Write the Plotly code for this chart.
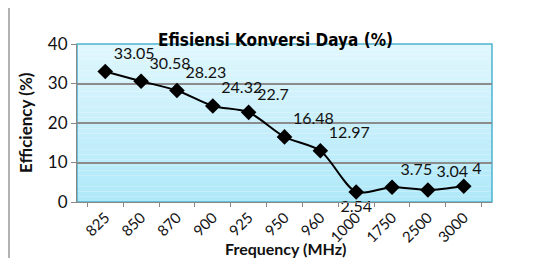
import plotly.graph_objects as go

categories = ["825", "850", "870", "900", "925", "950", "960", "1000", "1750", "2500", "3000"]
efficiency = [33.05, 30.58, 28.23, 24.32, 22.7, 16.48, 12.97, 2.54, 3.75, 3.04, 4]
label_text = ["33.05", "30.58", "28.23", "24.32", "22.7", "16.48", "12.97", "2.54", "3.75", "3.04", "4"]
label_pos = ["top right"] * 7 + ["bottom center"] + ["top right"] * 3

FONT = "Lato"
OFF = 8  # default page body margin
W, H = 537 - OFF, 258 - OFF
ML, MR, MT, MB = 77 - OFF, 45, 44 - OFF, 56
PW, PH = W - ML - MR, H - MT - MB

def px_x(px):
    return (px - OFF - ML) / PW

def px_y(py):
    return (H - MB - (py - OFF)) / PH

fig = go.Figure()
fig.add_trace(go.Scatter(
    x=categories, y=efficiency, mode="lines+markers+text",
    line=dict(color="black", width=2, shape="spline", smoothing=0.8),
    marker=dict(symbol="diamond", size=12, color="black"),
    text=label_text, textposition=label_pos,
    textfont=dict(family=FONT, size=16, color="#111"),
    cliponaxis=False, showlegend=False,
))

shapes = []
n = 30
top = (224, 247, 253)
bot = (176, 232, 249)
for i in range(n):
    t = i / (n - 1)
    c = tuple(round(top[k] + (bot[k] - top[k]) * t) for k in range(3))
    shapes.append(dict(type="rect", xref="x domain", yref="y domain",
                       x0=0, x1=1, y0=1 - (i + 1) / n, y1=1 - i / n,
                       fillcolor="rgb(%d,%d,%d)" % c, line=dict(width=0), layer="below"))
shapes.append(dict(type="rect", xref="x domain", yref="y domain", x0=0, x1=1, y0=0, y1=1,
                   line=dict(color="#4fb3cf", width=1.5), layer="below"))
shapes.append(dict(type="line", xref="paper", yref="paper", x0=px_x(9), x1=px_x(540),
                   y0=px_y(6), y1=px_y(6), line=dict(color="#999", width=1.5)))
shapes.append(dict(type="line", xref="paper", yref="paper", x0=px_x(9), x1=px_x(9),
                   y0=px_y(6), y1=px_y(262), line=dict(color="#999", width=1.5)))

annotations = [
    dict(text="<b>Frequency (MHz)</b>", xref="paper", yref="paper", x=px_x(285), y=px_y(248),
         xanchor="center", yanchor="middle", showarrow=False,
         font=dict(family=FONT, size=16, color="#111")),
    dict(text="<b>Efficiency (%)</b>", xref="paper", yref="paper", x=px_x(25), y=px_y(122),
         xanchor="center", yanchor="middle", showarrow=False, textangle=-90,
         font=dict(family=FONT, size=17, color="#111")),
    dict(text="<b>Efisiensi Konversi Daya (%)</b>", xref="paper", yref="paper",
         x=px_x(275), y=px_y(40), xanchor="center", yanchor="middle", showarrow=False,
         font=dict(family="DejaVu Sans Condensed", size=17, color="black")),
]

fig.update_layout(
    width=W, height=H,
    margin=dict(l=ML, r=MR, t=MT, b=MB, autoexpand=False),
    paper_bgcolor="white", plot_bgcolor="rgba(0,0,0,0)",
    shapes=shapes, annotations=annotations,
    font=dict(family=FONT, color="#111"),
    xaxis=dict(type="category", showgrid=False, ticks="outside", tickson="boundaries",
               ticklen=4, tickcolor="#888", showline=True, linecolor="#888", linewidth=1,
               tickangle=-45, tickfont=dict(family=FONT, size=15), automargin=False),
    yaxis=dict(range=[0, 40], dtick=10, showgrid=True, gridcolor="#8c8c8c", gridwidth=1.5,
               ticks="outside", ticklen=5, tickcolor="#888", showline=True, linecolor="#888",
               zeroline=False, tickfont=dict(family=FONT, size=17), automargin=False),
)

fig.write_html("out.html")
